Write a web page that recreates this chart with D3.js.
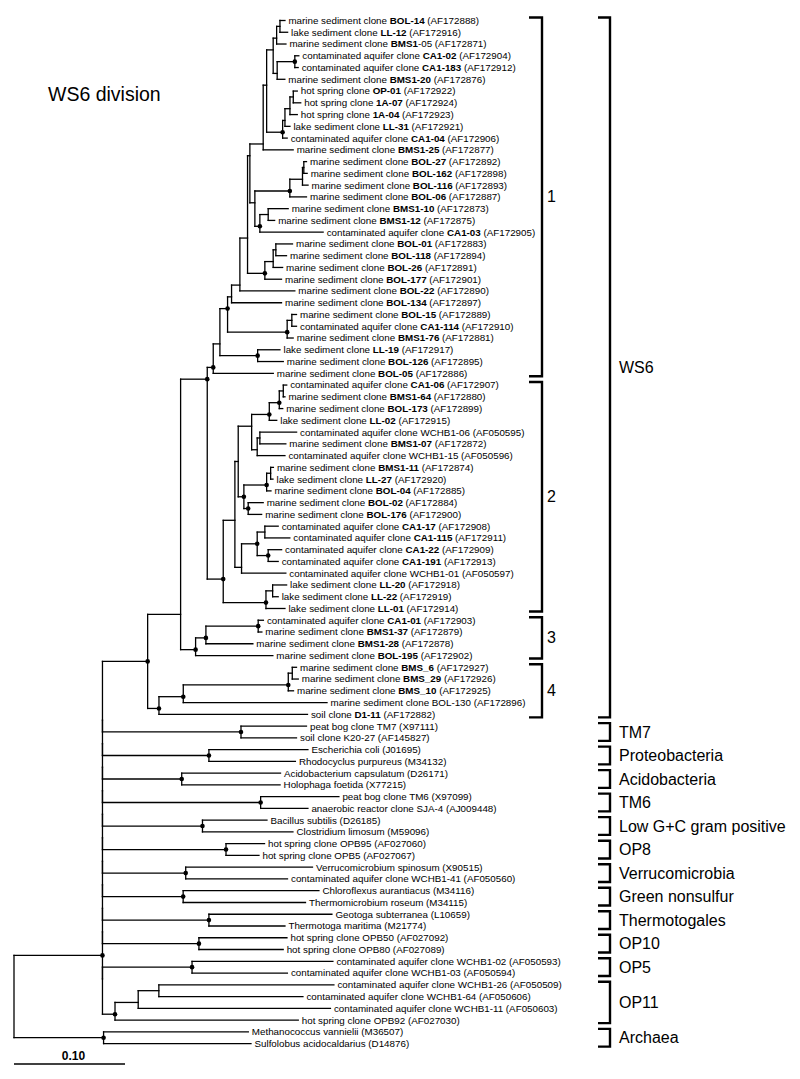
<!DOCTYPE html>
<html><head><meta charset="utf-8">
<script src="https://cdn.jsdelivr.net/npm/d3@7"></script>
<style>
html,body{margin:0;padding:0;background:#fff;}
svg{display:block;font-family:"Liberation Sans",Arial,Helvetica,sans-serif;}
text{white-space:pre;}
</style>
</head><body><svg id="chart" width="800" height="1079"></svg>
<script>
// ---------- DATA ----------
const titleText = "WS6 division";

// leaf labels, top to bottom; **...** = bold part
const leafLabels = [
"marine sediment clone **BOL-14** (AF172888)",
"lake sediment clone **LL-12** (AF172916)",
"marine sediment clone **BMS1**-05 (AF172871)",
"contaminated aquifer clone **CA1-02** (AF172904)",
"contaminated aquifer clone **CA1-183** (AF172912)",
"marine sediment clone **BMS1-20** (AF172876)",
"hot spring clone **OP-01** (AF172922)",
"hot spring clone **1A-07** (AF172924)",
"hot spring clone **1A-04** (AF172923)",
"lake sediment clone **LL-31** (AF172921)",
"contaminated aquifer clone **CA1-04** (AF172906)",
"marine sediment clone **BMS1-25** (AF172877)",
"marine sediment clone **BOL-27** (AF172892)",
"marine sediment clone **BOL-162** (AF172898)",
"marine sediment clone **BOL-116** (AF172893)",
"marine sediment clone **BOL-06** (AF172887)",
"marine sediment clone **BMS1-10** (AF172873)",
"marine sediment clone **BMS1-12** (AF172875)",
"contaminated aquifer clone **CA1-03** (AF172905)",
"marine sediment clone **BOL-01** (AF172883)",
"marine sediment clone **BOL-118** (AF172894)",
"marine sediment clone **BOL-26** (AF172891)",
"marine sediment clone **BOL-177** (AF172901)",
"marine sediment clone **BOL-22** (AF172890)",
"marine sediment clone **BOL-134** (AF172897)",
"marine sediment clone **BOL-15** (AF172889)",
"contaminated aquifer clone **CA1-114** (AF172910)",
"marine sediment clone **BMS1-76** (AF172881)",
"lake sediment clone **LL-19** (AF172917)",
"marine sediment clone **BOL-126** (AF172895)",
"marine sediment clone **BOL-05** (AF172886)",
"contaminated aquifer clone **CA1-06** (AF172907)",
"marine sediment clone **BMS1-64** (AF172880)",
"marine sediment clone **BOL-173** (AF172899)",
"lake sediment clone **LL-02** (AF172915)",
"contaminated aquifer clone WCHB1-06 (AF050595)",
"marine sediment clone **BMS1-07** (AF172872)",
"contaminated aquifer clone WCHB1-15 (AF050596)",
"marine sediment clone **BMS1-11** (AF172874)",
"lake sediment clone **LL-27** (AF172920)",
"marine sediment clone **BOL-04** (AF172885)",
"marine sediment clone **BOL-02** (AF172884)",
"marine sediment clone **BOL-176** (AF172900)",
"contaminated aquifer clone **CA1-17** (AF172908)",
"contaminated aquifer clone **CA1-115** (AF172911)",
"contaminated aquifer clone **CA1-22** (AF172909)",
"contaminated aquifer clone **CA1-191** (AF172913)",
"contaminated aquifer clone WCHB1-01 (AF050597)",
"lake sediment clone **LL-20** (AF172918)",
"lake sediment clone **LL-22** (AF172919)",
"lake sediment clone **LL-01** (AF172914)",
"contaminated aquifer clone **CA1-01** (AF172903)",
"marine sediment clone **BMS1-37** (AF172879)",
"marine sediment clone **BMS1-28** (AF172878)",
"marine sediment clone **BOL-195** (AF172902)",
"marine sediment clone **BMS_6** (AF172927)",
"marine sediment clone **BMS_29** (AF172926)",
"marine sediment clone **BMS_10** (AF172925)",
"marine sediment clone BOL-130 (AF172896)",
"soil clone **D1-11** (AF172882)",
"peat bog clone TM7 (X97111)",
"soil clone K20-27 (AF145827)",
"Escherichia coli (J01695)",
"Rhodocyclus purpureus (M34132)",
"Acidobacterium capsulatum (D26171)",
"Holophaga foetida (X77215)",
"peat bog clone TM6 (X97099)",
"anaerobic reactor clone SJA-4 (AJ009448)",
"Bacillus subtilis (D26185)",
"Clostridium limosum (M59096)",
"hot spring clone OPB95 (AF027060)",
"hot spring clone OPB5 (AF027067)",
"Verrucomicrobium spinosum (X90515)",
"contaminated aquifer clone WCHB1-41 (AF050560)",
"Chloroflexus aurantiacus (M34116)",
"Thermomicrobium roseum (M34115)",
"Geotoga subterranea (L10659)",
"Thermotoga maritima (M21774)",
"hot spring clone OPB50 (AF027092)",
"hot spring clone OPB80 (AF027089)",
"contaminated aquifer clone WCHB1-02 (AF050593)",
"contaminated aquifer clone WCHB1-03 (AF050594)",
"contaminated aquifer clone WCHB1-26 (AF050509)",
"contaminated aquifer clone WCHB1-64 (AF050606)",
"contaminated aquifer clone WCHB1-11 (AF050603)",
"hot spring clone OPB92 (AF027030)",
"Methanococcus vannielii (M36507)",
"Sulfolobus acidocaldarius (D14876)"
];

// Tree (Newick; leaf numbers index leafLabels from 1; branch lengths in substitutions/site; "*" = node marked with a dot)
const ws6Group1 = "((((((((((((1:.0045,2:.0069):.0030,3:.0084):.0031,((4:.0036,5:.0030)*:.0159,6:.0069):.0036):.0059," +
  "((((7:.0036,8:.0067):.0030,9:.0066):.0045,10:.0045):.0021,11:.0041)*:.0144):.0031,12:.0270):.0120," +
  "((((13:.0024,14:.0030):.0012,15:.0050):.0114,16:.0150)*:.0315,((17:.0180,18:.0058):.0075,19:.0570)*:.0045):.0045):.0021," +
  "(((20:.0150,21:.0096):.0024,22:.0085):.0075,23:.0150)*:.0156):.0069,24:.0495):.0075,25:.0450):.0036," +
  "((26:.0042,27:.0042):.0042,28:.0054)*:.0537)*:.0069,(29:.0201,30:.0231)*:.0340):.0060,31:.0541)*:.0054";
const ws6Group2 = "(((((((32:.0031,33:.0015):.0036,34:.0031)*:.0090,35:.0067)*:.0159,((36:.0331,37:.0234):.0024,38:.0250):.0050):.0121," +
  "(((39:.0025,40:.0021):.0036,41:.0039)*:.0205,(42:.0135,43:.0121)*:.0039)*:.0051):.0030," +
  "(((44:.0120,45:.0225):.0069,(46:.0121,47:.0090)*:.0099)*:.0141,48:.0399):.0060):.0105," +
  "((49:.0126,50:.0050):.0060,51:.0171)*:.0385)*:.0144";
const ws6Group3 = "(((52:.0047,53:.0033)*:.0471,54:.0423)*:.0093,55:.0696)*:.0135";
const ws6Group4 = "((((56:.0038,57:.0054):.0036,58:.0047)*:.0946,59:.1295)*:.0219,60:.1338)*:.0102";
const ws6Division = `(((${ws6Group1},${ws6Group2})*:.0240,${ws6Group3}):.0297,${ws6Group4})*:.0407`;
const tm7 = "(61:.0590,62:.0500)*:.1248";
const proteobacteria = "(63:.0892,64:.0779)*:.0959";
const acidobacteria = "(65:.0890,66:.0886)*:.0714";
const tm6 = "(67:.0705,68:.0426)*:.1425";
const lowGC = "(69:.0581,70:.0815)*:.0901";
const op8 = "(71:.0347,72:.0297)*:.1113";
const verrucomicrobia = "(73:.1142,74:.0917)*:.0750";
const greenNonsulfur = "(75:.1223,76:.1102)*:.0727";
const thermotogales = "(77:.1108,78:.0685)*:.0959";
const op10 = "(79:.0793,80:.0759)*:.0869";
const op5 = "(81:.1269,82:.0859)*:.0807";
const op11 = "(((83:.1577,84:.1298):.0186,85:.1732):.0209,86:.1651)*:.0113";
const archaea = "(87:.1304,88:.1328)*:.0807";
// bacterial radiation: lineages joined at zero-length internal branches
const bacterialLineages = [ws6Division, tm7, proteobacteria, acidobacteria, tm6, lowGC, op8,
  verrucomicrobia, greenNonsulfur, thermotogales, op10];
const bacteriaStem = 0.0797;

// clade brackets (leaf index ranges, 0-based)
const subgroupBrackets = [
  {label:"1", first:0, last:30},
  {label:"2", first:31, last:50},
  {label:"3", first:51, last:54},
  {label:"4", first:55, last:59}
];
const divisionBrackets = [
  {label:"WS6", first:0, last:59},
  {label:"TM7", first:60, last:61},
  {label:"Proteobacteria", first:62, last:63},
  {label:"Acidobacteria", first:64, last:65},
  {label:"TM6", first:66, last:67},
  {label:"Low G+C gram positive", first:68, last:69},
  {label:"OP8", first:70, last:71},
  {label:"Verrucomicrobia", first:72, last:73},
  {label:"Green nonsulfur", first:74, last:75},
  {label:"Thermotogales", first:76, last:77},
  {label:"OP10", first:78, last:79},
  {label:"OP5", first:80, last:81},
  {label:"OP11", first:82, last:85},
  {label:"Archaea", first:86, last:87}
];
const scaleBarValue = 0.10;
const scaleBarLabel = "0.10";

// ---------- BUILD NEWICK ----------
const comb = bacterialLineages.slice(1).reduce((acc, s) => `(${acc},${s}):0`, bacterialLineages[0]);
const bacteria = `(${comb},(${op5},${op11}):0)*:${bacteriaStem}`;
const treeNewick = `(${bacteria},${archaea});`;

// ---------- PARSE ----------
function parseNewick(s){
  let i = 0;
  function node(){
    const n = {children:[]};
    if (s[i] === "("){
      i++;
      n.children.push(node());
      while (s[i] === ","){ i++; n.children.push(node()); }
      i++;
    }
    let name = "";
    while (i < s.length && !":,();".includes(s[i])) name += s[i++];
    n.name = name;
    n.length = 0;
    if (s[i] === ":"){
      i++; let num = "";
      while (i < s.length && !",();".includes(s[i])) num += s[i++];
      n.length = +num;
    }
    if (!n.children.length) delete n.children;
    return n;
  }
  return node();
}

// ---------- LAYOUT ----------
const svg = d3.select("#chart");
const root = d3.hierarchy(parseNewick(treeNewick));
root.eachBefore(n => { n.dist = n.parent ? n.parent.dist + n.data.length : 0; });
const leaves = root.leaves();
const yScale = d3.scaleLinear().domain([0, leafLabels.length - 1]).range([20.5, 1043.6]);
const xScale = d3.scaleLinear().domain([0, 0.1]).range([14, 125]);
leaves.forEach((l, i) => { l.idx = i; l.py = yScale(i); });
root.eachAfter(n => {
  if (n.children){
    const k = n.children.length;
    const m = Math.max(1, Math.ceil(k / 2));
    const a = n.children[m - 1].leaves(), b = n.children[Math.min(m, k - 1)].leaves();
    n.py = (a[a.length-1].py + b[0].py) / 2;
  }
  n.px = xScale(n.dist);
});

const g = svg.append("g");
const stroke = "#000";
g.selectAll("line.h").data(root.descendants().filter(d => d.parent))
  .join("line").attr("class","h")
  .attr("x1", d => d.parent.px).attr("x2", d => d.px)
  .attr("y1", d => d.py).attr("y2", d => d.py)
  .attr("stroke", stroke).attr("stroke-width", 1.3).attr("stroke-linecap","square");
g.selectAll("line.v").data(root.descendants().filter(d => d.children))
  .join("line").attr("class","v")
  .attr("x1", d => d.px).attr("x2", d => d.px)
  .attr("y1", d => d.children[0].py).attr("y2", d => d.children[d.children.length-1].py)
  .attr("stroke", stroke).attr("stroke-width", 1.3).attr("stroke-linecap","square");
g.selectAll("circle.n").data(root.descendants().filter(d => d.children && d.data.name === "*"))
  .join("circle").attr("class","n")
  .attr("cx", d => d.px).attr("cy", d => d.py).attr("r", 2.3).attr("fill", "#000");

const lab = g.selectAll("text.leaf").data(leaves).join("text").attr("class","leaf")
  .attr("x", d => d.px + 3.5).attr("y", d => d.py).attr("dy","0.35em")
  .attr("font-size", 9.8).attr("fill","#000");
lab.each(function(d){
  const parts = leafLabels[+d.data.name - 1].split("**");
  const t = d3.select(this);
  parts.forEach((p, k) => { if (p.length) t.append("tspan").text(p).attr("font-weight", k % 2 ? "bold" : "normal"); });
});

function drawBrackets(list, xLine, tick, labelX){
  list.forEach(b => {
    const top = yScale(b.first) - 3, bot = yScale(b.last) + 3;
    svg.append("path")
      .attr("d", `M${xLine - tick},${top}H${xLine}V${bot}H${xLine - tick}`)
      .attr("fill","none").attr("stroke","#000").attr("stroke-width", 2.4);
    svg.append("text").attr("x", labelX).attr("y", (top + bot) / 2).attr("dy","0.35em")
      .attr("font-size", 16).attr("fill","#000").text(b.label);
  });
}
drawBrackets(subgroupBrackets, 542, 13, 547);
drawBrackets(divisionBrackets, 610, 12, 619);

svg.append("text").attr("x", 48).attr("y", 101).attr("font-size", 19.5).attr("fill","#000").text(titleText);

const sb0 = xScale(0), sb1 = xScale(scaleBarValue);
svg.append("line").attr("x1", sb0).attr("x2", sb1).attr("y1", 1064).attr("y2", 1064)
  .attr("stroke","#000").attr("stroke-width", 1.3);
svg.append("text").attr("x", (sb0 + sb1) / 2 + 4).attr("y", 1060).attr("text-anchor","middle")
  .attr("font-size", 12).attr("font-weight","bold").attr("fill","#000").text(scaleBarLabel);
</script>
</body></html>
